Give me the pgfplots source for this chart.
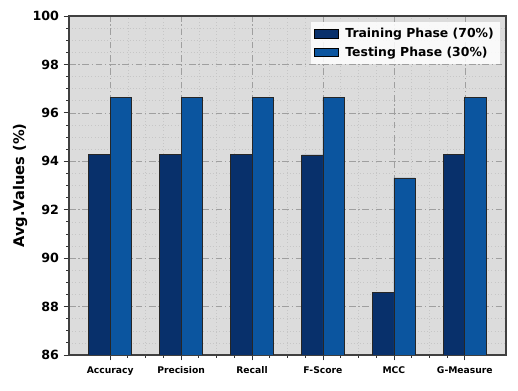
\documentclass[border=0pt]{standalone}
\usepackage{fontspec}
\setmainfont{DejaVu Sans}
\usepackage{pgfplots}
\pgfplotsset{compat=1.18}
\definecolor{trainC}{HTML}{08306B}
\definecolor{testC}{HTML}{0B559F}
\definecolor{bgGray}{HTML}{DCDCDC}
\begin{document}
\begin{tikzpicture}[x=0.75pt,y=0.75pt]
\begin{axis}[
  name=ax,
  scale only axis,
  width=327.75pt, height=254.25pt,
  axis background/.style={fill=bgGray},
  axis line style={draw=black!75, line width=0.8pt},
  ymin=86, ymax=100,
  ytick={86,88,...,100},
  minor y tick num=3,
  xmin=-0.58, xmax=5.58,
  xtick={0,1,2,3,4,5},
  xticklabels={Accuracy,Precision,Recall,F-Score,MCC,G-Measure},
  minor x tick num=3,
  tick align=outside,
  xtick pos=bottom, ytick pos=left,
  major tick length=4pt, minor tick length=2pt,
  every tick/.style={black!80, line width=0.6pt},
  grid=both,
  major grid style={gray!75, line width=0.5pt, dash pattern=on 5pt off 2pt on 1pt off 2pt},
  minor grid style={gray!45, line width=0.4pt, dotted},
  /pgf/number format/assume math mode=true,
  yticklabel style={font=\fontsize{9.5}{10}\selectfont\bfseries},
  xticklabel style={font=\fontsize{6.9}{8}\selectfont\bfseries, yshift=-1pt},
  ylabel={Avg.Values (\%)},
  ylabel style={font=\fontsize{11}{13}\selectfont\bfseries, yshift=-3pt},
  ybar, bar width=0.3,
  legend style={at={(1,1)}, anchor=north east, xshift=-4.5pt, yshift=-4.5pt,
    fill=white, fill opacity=0.85, text opacity=1, draw=none,
    font=\fontsize{9.3}{11.5}\selectfont\bfseries, row sep=1.5pt,
    legend cell align=left, inner sep=2.5pt,
    /tikz/every odd column/.append style={column sep=3pt}},
  legend image code/.code={\draw[#1, draw=black, fill opacity=1, draw opacity=1] (0pt,-3pt) rectangle (18pt,3.5pt);},
]
\addplot[fill=trainC, draw=black!85, line width=0.6pt, bar shift=-0.15]
  coordinates {(0,94.30)(1,94.30)(2,94.30)(3,94.26)(4,88.60)(5,94.30)};
\addlegendentry{Training Phase (70\%)}
\addplot[fill=testC, draw=black!85, line width=0.6pt, bar shift=0.15]
  coordinates {(0,96.63)(1,96.63)(2,96.63)(3,96.63)(4,93.31)(5,96.63)};
\addlegendentry{Testing Phase (30\%)}
\end{axis}
\pgfresetboundingbox
\path[use as bounding box] ([shift={(-51.75pt,-27pt)}]ax.south west) rectangle ([shift={(9pt,12pt)}]ax.north east);
\end{tikzpicture}
\end{document}
